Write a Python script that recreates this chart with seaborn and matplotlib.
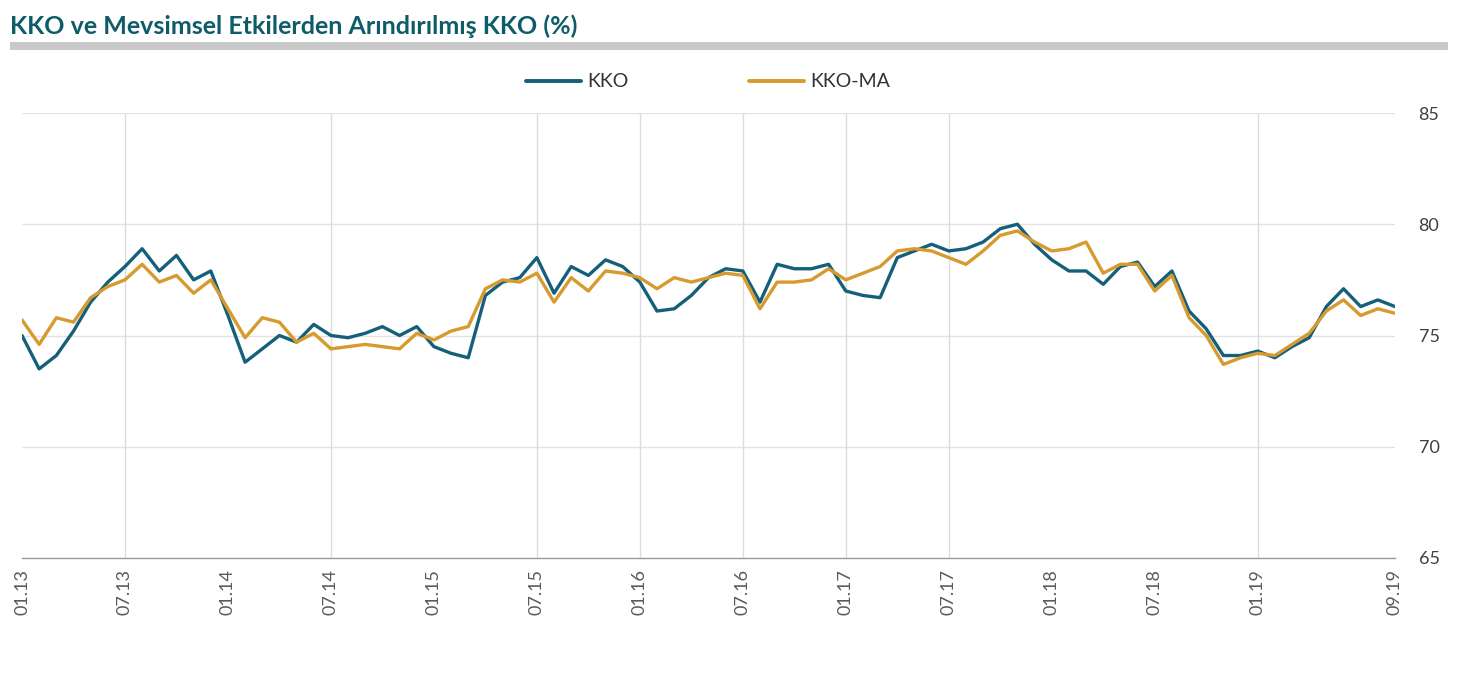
import matplotlib
matplotlib.use("Agg")
import matplotlib.pyplot as plt
from matplotlib.patches import Rectangle
import numpy as np
import pandas as pd
import seaborn as sns

# ---- data -------------------------------------------------------------
years = [2013, 2014, 2015, 2016, 2017, 2018, 2019]
months = [f"{m:02d}.{y % 100:02d}" for y in years for m in range(1, 13)][:81]

kko = [75.0, 73.5, 74.1, 75.2, 76.5, 77.4, 78.1, 78.9, 77.9, 78.6, 77.5, 77.9,
       75.9, 73.8, 74.4, 75.0, 74.7, 75.5, 75.0, 74.9, 75.1, 75.4, 75.0, 75.4,
       74.5, 74.2, 74.0, 76.8, 77.4, 77.6, 78.5, 76.9, 78.1, 77.7, 78.4, 78.1,
       77.4, 76.1, 76.2, 76.8, 77.6, 78.0, 77.9, 76.5, 78.2, 78.0, 78.0, 78.2,
       77.0, 76.8, 76.7, 78.5, 78.8, 79.1, 78.8, 78.9, 79.2, 79.8, 80.0, 79.1,
       78.4, 77.9, 77.9, 77.3, 78.1, 78.3, 77.2, 77.9, 76.1, 75.3, 74.1, 74.1,
       74.3, 74.0, 74.5, 74.9, 76.3, 77.1, 76.3, 76.6, 76.3]

kko_ma = [75.7, 74.6, 75.8, 75.6, 76.7, 77.2, 77.5, 78.2, 77.4, 77.7, 76.9, 77.5,
          76.2, 74.9, 75.8, 75.6, 74.7, 75.1, 74.4, 74.5, 74.6, 74.5, 74.4, 75.1,
          74.8, 75.2, 75.4, 77.1, 77.5, 77.4, 77.8, 76.5, 77.6, 77.0, 77.9, 77.8,
          77.6, 77.1, 77.6, 77.4, 77.6, 77.8, 77.7, 76.2, 77.4, 77.4, 77.5, 78.0,
          77.5, 77.8, 78.1, 78.8, 78.9, 78.8, 78.5, 78.2, 78.8, 79.5, 79.7, 79.2,
          78.8, 78.9, 79.2, 77.8, 78.2, 78.2, 77.0, 77.7, 75.8, 75.0, 73.7, 74.0,
          74.2, 74.1, 74.6, 75.1, 76.1, 76.6, 75.9, 76.2, 76.0]

series_names = ["KKO", "KKO-MA"]
y_ticks = [65, 70, 75, 80, 85]
title = "KKO ve Mevsimsel Etkilerden Arındırılmış KKO (%)"

# ---- styling ----------------------------------------------------------
sns.set_theme(style="white")
plt.rcParams["font.family"] = ["Lato", "DejaVu Sans"]

colors = {"KKO": "#14607a", "KKO-MA": "#d69a2e"}

df = pd.DataFrame({
    "idx": list(range(len(months))) * 2,
    "value": kko + kko_ma,
    "series": ["KKO"] * len(kko) + ["KKO-MA"] * len(kko_ma),
})

fig = plt.figure(figsize=(14.62, 6.75), dpi=100)
ax = fig.add_axes([22 / 1462, 1 - 558 / 675, (1395 - 22) / 1462, (558 - 113) / 675])

sns.lineplot(data=df, x="idx", y="value", hue="series", hue_order=series_names,
             palette=colors, linewidth=2.4, ax=ax, sort=False)

n = len(months)
ax.set_xlim(0, n - 1)
ax.set_ylim(65, 85)

# x ticks: every 6 months plus last month
tick_pos = list(range(0, n, 6)) + [n - 1]
tick_lab = [months[i] if i != 78 else "" for i in range(0, n, 6)] + [months[n - 1]]
ax.set_xticks(tick_pos)
ax.set_xticklabels(tick_lab, rotation=90, fontsize=13, color="#5a5a5a")
ax.tick_params(axis="x", direction="inout", length=8, width=0.9, color="#8a8a8a", pad=4)

# y axis on the right
ax.yaxis.tick_right()
ax.set_yticks(y_ticks)
ax.set_yticklabels([str(v) for v in y_ticks], fontsize=13, color="#404040")
ax.tick_params(axis="y", length=0, pad=17)

ax.set_xlabel("")
ax.set_ylabel("")

# grid lines
for v in y_ticks[1:]:
    ax.axhline(v, color="#e3e3e3", lw=1.0, zorder=0)
for i in [6, 18, 30, 36, 42, 48, 54, 72]:
    ax.axvline(i, color="#dcdcdc", lw=1.0, zorder=0)

for s in ["top", "right", "left"]:
    ax.spines[s].set_visible(False)
ax.spines["bottom"].set_color("#9a9a9a")
ax.spines["bottom"].set_linewidth(1.0)

# legend
handles, labels = ax.get_legend_handles_labels()
leg = ax.legend(handles, labels, loc="center", bbox_to_anchor=(0.5, 1.07), ncol=2,
                frameon=False, fontsize=14, handlelength=2.8, handletextpad=0.35,
                columnspacing=6.2)
for t in leg.get_texts():
    t.set_color("#333333")
for h in leg.get_lines():
    h.set_linewidth(2.8)

# title and bar
fig.text(10 / 1462, 1 - 26 / 675, title, fontsize=18, fontweight="bold",
         color="#0d5c68", va="center", ha="left")
fig.add_artist(Rectangle((10 / 1462, 1 - 50 / 675), (1448 - 10) / 1462, 8 / 675,
                         transform=fig.transFigure, color="#c9c9c9", lw=0))

fig.savefig("out.png", dpi=100)
